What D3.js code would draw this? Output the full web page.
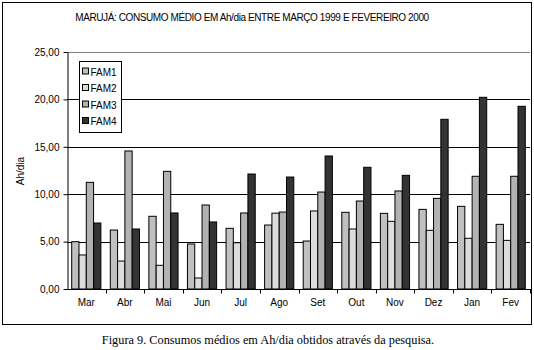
<!DOCTYPE html>
<head>
<meta charset="utf-8">
<style>
  body { margin: 0; background: #fff; }
  svg { font-family: "Liberation Sans", Arial, sans-serif; }
</style>
</head>
<body>
<svg width="534" height="350"></svg>
<script src="https://d3js.org/d3.v7.min.js"></script>
<script>

var months = ["Mar", "Abr", "Mai", "Jun", "Jul", "Ago", "Set", "Out", "Nov", "Dez", "Jan", "Fev"];
var series = ["FAM1", "FAM2", "FAM3", "FAM4"];
var fam1 = [4.99, 6.22, 7.67, 4.75, 6.40, 6.75, 5.06, 8.09, 7.98, 8.40, 8.72, 6.82];
var fam2 = [3.59, 2.95, 2.50, 1.16, 4.88, 8.00, 8.23, 6.33, 7.14, 6.19, 5.35, 5.13];
var fam3 = [11.25, 14.56, 12.41, 8.86, 8.02, 8.12, 10.23, 9.28, 10.34, 9.56, 11.89, 11.89];
var fam4 = [6.96, 6.33, 8.02, 7.07, 12.13, 11.81, 14.03, 12.84, 11.99, 17.90, 20.22, 19.27];
var yTicks = [0, 5, 10, 15, 20, 25];

var values = [fam1, fam2, fam3, fam4];
var colors = ["#c0c0c0", "#dcdcdc", "#b2b2b2", "#333333"];

var svg = d3.select("svg"),
    plotLeft = 67, plotRight = 530, plotTop = 52, plotBottom = 289;

// outer frame
svg.append("rect")
    .attr("x", 2.5).attr("y", 2.5)
    .attr("width", 529).attr("height", 322)
    .attr("fill", "none").attr("stroke", "#000");

svg.append("text")
    .attr("x", 252).attr("y", 21)
    .attr("text-anchor", "middle")
    .attr("font-size", 10)
    .attr("letter-spacing", -0.4)
    .text("MARUJÁ: CONSUMO MÉDIO EM Ah/dia ENTRE MARÇO 1999 E FEVEREIRO 2000");

var x = d3.scaleBand().domain(months).range([plotLeft, plotRight]);
var inner = d3.scaleBand().domain(series).range([4.7, x.bandwidth() - 4.7]);
var y = d3.scaleLinear().domain([0, 25]).range([plotBottom, plotTop]);

// grid
svg.append("g").selectAll("line")
    .data(yTicks.filter(function(d) { return d > 0; }))
    .enter().append("line")
    .attr("x1", plotLeft).attr("x2", plotRight)
    .attr("y1", function(d) { return Math.round(y(d)) + 0.5; })
    .attr("y2", function(d) { return Math.round(y(d)) + 0.5; })
    .attr("stroke", function(d) { return d === 25 ? "#808080" : "#000"; })
    .attr("stroke-width", 1.2);

// bars
series.forEach(function(s, i) {
  svg.append("g").selectAll("rect")
      .data(values[i])
      .enter().append("rect")
      .attr("x", function(d, j) { return x(months[j]) + inner(s); })
      .attr("y", function(d) { return y(d); })
      .attr("width", inner.bandwidth())
      .attr("height", function(d) { return plotBottom - y(d); })
      .attr("fill", colors[i])
      .attr("stroke", "#000")
      .attr("stroke-width", 1);
});

// y axis
var yAxis = svg.append("g")
    .attr("transform", "translate(" + (plotLeft + 0.5) + ",0)")
    .call(d3.axisLeft(y).tickValues(yTicks).tickSize(4).tickSizeOuter(0)
      .tickFormat(function(d) { return d3.format(".2f")(d).replace(".", ","); }));
yAxis.select(".domain").attr("stroke", "#000");
yAxis.selectAll("text")
    .style("font-family", "'Liberation Sans', Arial, sans-serif")
    .style("font-size", "10px")
    .attr("fill", "#000").attr("dx", -1);

// x axis
var xAxis = svg.append("g")
    .attr("transform", "translate(0," + (plotBottom + 0.5) + ")");
xAxis.append("line").attr("x1", plotLeft).attr("x2", plotRight + 1).attr("stroke", "#000");
xAxis.selectAll(".tk")
    .data(months)
    .enter().append("line")
    .attr("x1", function(d) { return Math.round(x(d) + x.bandwidth()) + 0.5; })
    .attr("x2", function(d) { return Math.round(x(d) + x.bandwidth()) + 0.5; })
    .attr("y1", 0).attr("y2", 4)
    .attr("stroke", "#000");
xAxis.selectAll("text")
    .data(months)
    .enter().append("text")
    .attr("x", function(d) { return x(d) + x.bandwidth() / 2; })
    .attr("y", 16)
    .attr("text-anchor", "middle")
    .attr("font-size", 10)
    .text(function(d) { return d; });

svg.append("text")
    .attr("transform", "translate(24,171) rotate(-90)")
    .attr("text-anchor", "middle")
    .attr("font-size", 10)
    .text("Ah/dia");

// legend
var legend = svg.append("g").attr("transform", "translate(79.5,61.5)");
legend.append("rect")
    .attr("width", 42).attr("height", 71)
    .attr("fill", "#fff").attr("stroke", "#000");
var item = legend.selectAll(".it")
    .data(series)
    .enter().append("g")
    .attr("transform", function(d, i) { return "translate(0," + (10 + i * 16.5) + ")"; });
item.append("rect")
    .attr("x", 3).attr("y", -3.5)
    .attr("width", 6).attr("height", 6)
    .attr("fill", function(d, i) { return colors[i]; })
    .attr("stroke", "#000");
item.append("text")
    .attr("x", 11).attr("y", 4)
    .attr("font-size", 10)
    .text(function(d) { return d; });

svg.append("text")
    .attr("x", 268).attr("y", 344)
    .attr("text-anchor", "middle")
    .style("font-family", "'Liberation Serif', 'Times New Roman', serif")
    .attr("font-size", 12.3)
    .text("Figura 9. Consumos médios em Ah/dia obtidos através  da pesquisa.");
</script>
</body>
